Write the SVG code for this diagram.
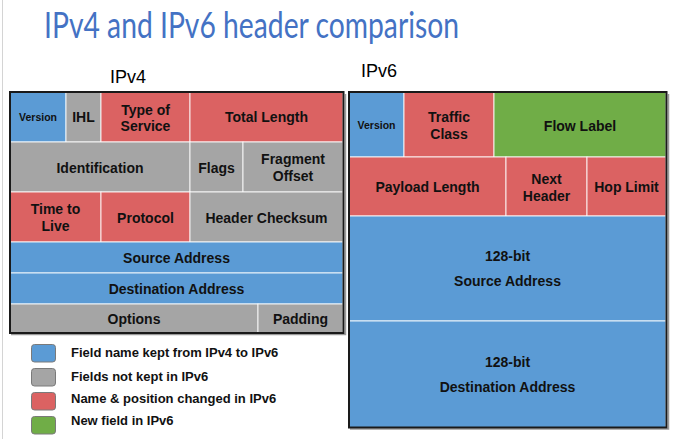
<svg xmlns="http://www.w3.org/2000/svg" width="673" height="439" viewBox="0 0 673 439">
  <style>
    .title { font-family: Lato, "Open Sans", "Liberation Sans", sans-serif; font-size: 36px; font-weight: 400; fill: #4472C4; }
    .head { font-family: "Liberation Sans", Arial, sans-serif; font-size: 18px; fill: #000; }
    .f { font-family: "Liberation Sans", Arial, sans-serif; font-size: 14px; font-weight: bold; fill: #111; text-anchor: middle; }
    .fs { font-family: "Liberation Sans", Arial, sans-serif; font-size: 10.5px; font-weight: bold; fill: #111; text-anchor: middle; }
    .lg { font-family: "Liberation Sans", Arial, sans-serif; font-size: 13px; font-weight: bold; fill: #111; }
    .blue { fill: #5B9BD5; }
    .gray { fill: #A5A5A5; }
    .red { fill: #DB6262; }
    .green { fill: #70AD47; }
    .cell { stroke: #FFFFFF; stroke-width: 1; stroke-opacity: 0.85; }
    .frame { fill: none; stroke: #1a1a1a; stroke-width: 2; }
    .shadow { fill: none; stroke: #9a9a9a; stroke-width: 1.5; }
    .key { stroke: #7a7a7a; stroke-width: 1; }
  </style>

  <rect x="0" y="0" width="673" height="439" fill="#FFFFFF"/>
  <line x1="2.5" y1="0" x2="2.5" y2="439" stroke="#D4D4D4" stroke-width="1"/>

  <text class="title" x="44" y="38" textLength="415" lengthAdjust="spacingAndGlyphs">IPv4 and IPv6 header comparison</text>
  <text class="head" x="110" y="83">IPv4</text>
  <text class="head" x="361" y="77">IPv6</text>

  <!-- IPv4 header -->
  <g id="ipv4">
    <g id="v4-version"><rect class="cell blue" x="10" y="92" width="56" height="50"/><text class="fs" x="38" y="121">Version</text></g>
    <g id="v4-ihl"><rect class="cell gray" x="66" y="92" width="35" height="50"/><text class="f" x="83.5" y="122">IHL</text></g>
    <g id="v4-tos"><rect class="cell red" x="101" y="92" width="89" height="50"/><text class="f" x="145.5" y="114.5">Type of</text><text class="f" x="145.5" y="131">Service</text></g>
    <g id="v4-total-length"><rect class="cell red" x="190" y="92" width="153" height="50"/><text class="f" x="266.5" y="122">Total Length</text></g>

    <g id="v4-identification"><rect class="cell gray" x="10" y="142" width="180" height="50"/><text class="f" x="100" y="172.5">Identification</text></g>
    <g id="v4-flags"><rect class="cell gray" x="190" y="142" width="53" height="50"/><text class="f" x="216.5" y="172.5">Flags</text></g>
    <g id="v4-fragment-offset"><rect class="cell gray" x="243" y="142" width="100" height="50"/><text class="f" x="293" y="163.5">Fragment</text><text class="f" x="293" y="180.5">Offset</text></g>

    <g id="v4-ttl"><rect class="cell red" x="10" y="192" width="91" height="50"/><text class="f" x="55.5" y="214">Time to</text><text class="f" x="55.5" y="230.5">Live</text></g>
    <g id="v4-protocol"><rect class="cell red" x="101" y="192" width="89" height="50"/><text class="f" x="145.5" y="222.5">Protocol</text></g>
    <g id="v4-checksum"><rect class="cell gray" x="190" y="192" width="153" height="50"/><text class="f" x="266.5" y="222.5">Header Checksum</text></g>

    <g id="v4-source"><rect class="cell blue" x="10" y="242" width="333" height="31"/><text class="f" x="176.5" y="262.5">Source Address</text></g>
    <g id="v4-destination"><rect class="cell blue" x="10" y="273" width="333" height="31"/><text class="f" x="176.5" y="294">Destination Address</text></g>

    <g id="v4-options"><rect class="cell gray" x="10" y="304" width="248" height="29"/><text class="f" x="134" y="323.5">Options</text></g>
    <g id="v4-padding"><rect class="cell gray" x="258" y="304" width="85" height="29"/><text class="f" x="300.5" y="323.5">Padding</text></g>

    <path class="shadow" d="M345.5 94 V334.5 H11"/>
    <rect class="frame" x="10" y="92" width="333.5" height="241"/>
  </g>

  <!-- IPv6 header -->
  <g id="ipv6">
    <g id="v6-version"><rect class="cell blue" x="349" y="92" width="55" height="65"/><text class="fs" x="376.5" y="129">Version</text></g>
    <g id="v6-traffic-class"><rect class="cell red" x="404" y="92" width="90" height="65"/><text class="f" x="449" y="122">Traffic</text><text class="f" x="449" y="138.5">Class</text></g>
    <g id="v6-flow-label"><rect class="cell green" x="494" y="92" width="172" height="65"/><text class="f" x="580" y="130.5">Flow Label</text></g>

    <g id="v6-payload-length"><rect class="cell red" x="349" y="157" width="157" height="59"/><text class="f" x="427.5" y="191.5">Payload Length</text></g>
    <g id="v6-next-header"><rect class="cell red" x="506" y="157" width="81" height="59"/><text class="f" x="546.5" y="184">Next</text><text class="f" x="546.5" y="200.5">Header</text></g>
    <g id="v6-hop-limit"><rect class="cell red" x="587" y="157" width="79" height="59"/><text class="f" x="626.5" y="191.5">Hop Limit</text></g>

    <g id="v6-source"><rect class="cell blue" x="349" y="216" width="317" height="105"/><text class="f" x="507.5" y="261">128-bit</text><text class="f" x="507.5" y="286">Source Address</text></g>
    <g id="v6-destination"><rect class="cell blue" x="349" y="321" width="317" height="106.5"/><text class="f" x="507.5" y="366.5">128-bit</text><text class="f" x="507.5" y="391.5">Destination Address</text></g>

    <path class="shadow" d="M668.5 94 V429 H350"/>
    <rect class="frame" x="349" y="92" width="317.5" height="335.5"/>
  </g>

  <!-- Colour key -->
  <g id="legend">
    <g id="key-kept"><rect class="key blue" x="31.5" y="344.5" width="24" height="17.5" rx="3"/><text class="lg" x="71" y="357">Field name kept from IPv4 to IPv6</text></g>
    <g id="key-dropped"><rect class="key gray" x="31.5" y="368.5" width="24" height="17.5" rx="3"/><text class="lg" x="71" y="380.5">Fields not kept in IPv6</text></g>
    <g id="key-changed"><rect class="key red" x="31.5" y="392.5" width="24" height="17.5" rx="3"/><text class="lg" x="71" y="403">Name &amp; position changed in IPv6</text></g>
    <g id="key-new"><rect class="key green" x="31.5" y="416.5" width="24" height="17.5" rx="3"/><text class="lg" x="71" y="425">New field in IPv6</text></g>
  </g>
</svg>
